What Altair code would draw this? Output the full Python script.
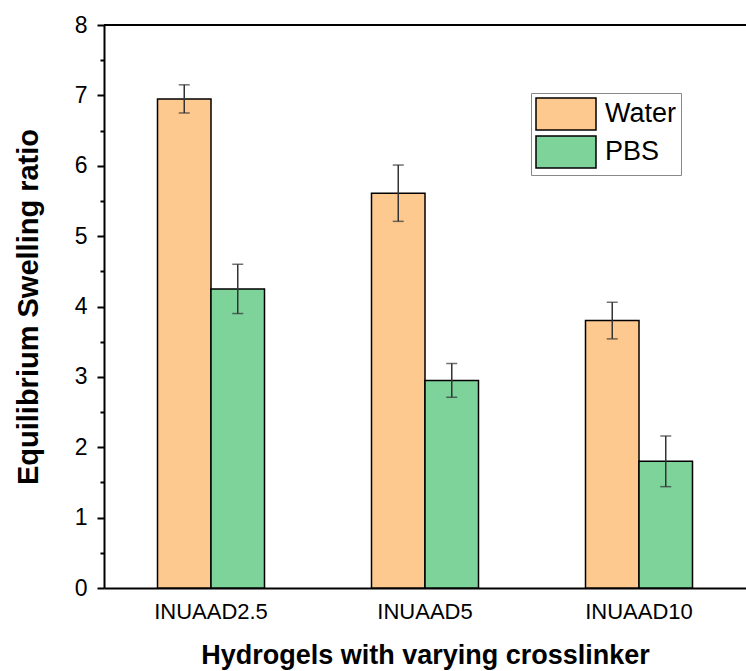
import altair as alt
import pandas as pd

categories = ["INUAAD2.5", "INUAAD5", "INUAAD10"]
series = ["Water", "PBS"]
water_values = [6.95, 5.61, 3.80]
water_errors = [0.20, 0.40, 0.26]
pbs_values = [4.25, 2.95, 1.80]
pbs_errors = [0.35, 0.24, 0.36]
colors = ["#FEC98E", "#7DD39A"]
y_major_ticks = [0, 1, 2, 3, 4, 5, 6, 7, 8]
y_minor_ticks = [0.5, 1.5, 2.5, 3.5, 4.5, 5.5, 6.5, 7.5]

rows = []
for i, c in enumerate(categories):
    rows.append({"cat": c, "medium": "Water", "value": water_values[i], "err": water_errors[i]})
    rows.append({"cat": c, "medium": "PBS", "value": pbs_values[i], "err": pbs_errors[i]})
df = pd.DataFrame(rows)
df["lo"] = df["value"] - df["err"]
df["hi"] = df["value"] + df["err"]

FONT = "Arial, Liberation Sans, Helvetica, sans-serif"

x_axis = alt.Axis(
    title="Hydrogels with varying crosslinker",
    labelAngle=0,
    ticks=False,
    labelFontSize=22,
    labelPadding=13,
    labelColor="black",
    titleFontSize=27,
    titleFontWeight="bold",
    titlePadding=20,
    titleColor="black",
    domainColor="black",
    domainWidth=2,
    grid=False,
    labelFont=FONT,
    titleFont=FONT,
)
x_scale = alt.Scale(paddingInner=0.5, paddingOuter=0.25)


def x_enc():
    return alt.X("cat:N", sort=categories, scale=x_scale, axis=x_axis)


xoff = alt.XOffset("medium:N", sort=series, scale=alt.Scale(domain=series, paddingInner=0, paddingOuter=0))

y_scale = alt.Scale(domain=[0, 8], nice=False)

bars = alt.Chart(df).mark_bar(stroke="black", strokeWidth=1.5, opacity=1).encode(
    x=x_enc(),
    xOffset=xoff,
    y=alt.Y(
        "value:Q",
        scale=y_scale,
        axis=alt.Axis(
            title="Equilibrium Swelling ratio",
            orient="left",
            values=y_major_ticks,
            format="d",
            tickSize=7,
            tickWidth=2,
            tickColor="black",
            domainColor="black",
            domainWidth=2,
            labelFontSize=23,
            labelPadding=10,
            labelColor="black",
            titleFontSize=29,
            titleFontWeight="bold",
            titlePadding=31,
            titleColor="black",
            grid=False,
            labelFont=FONT,
            titleFont=FONT,
        ),
    ),
    color=alt.Color(
        "medium:N",
        sort=series,
        scale=alt.Scale(domain=series, range=colors),
        legend=alt.Legend(
            title=None,
            orient="none",
            legendX=427,
            legendY=68,
            symbolType="M-1,-1H2.75V1H-1Z",
            symbolSize=1024,
            symbolStrokeColor="black",
            symbolStrokeWidth=1.5,
            symbolOpacity=1,
            labelFontSize=27,
            labelFont=FONT,
            labelColor="black",
            labelOffset=36,
            rowPadding=0,
            padding=4,
            strokeColor="#888888",
            fillColor="white",
        ),
    ),
)

err_rules = alt.Chart(df).mark_rule(color="#333333", strokeWidth=1.5).encode(
    x=x_enc(),
    xOffset=xoff,
    y=alt.Y("lo:Q", scale=y_scale, axis=None),
    y2="hi:Q",
)
caps_lo = alt.Chart(df).mark_tick(color="#333333", thickness=1.5, size=11).encode(
    x=x_enc(),
    xOffset=xoff,
    y=alt.Y("lo:Q", scale=y_scale, axis=None),
)
caps_hi = alt.Chart(df).mark_tick(color="#333333", thickness=1.5, size=11).encode(
    x=x_enc(),
    xOffset=xoff,
    y=alt.Y("hi:Q", scale=y_scale, axis=None),
)
top_line = alt.Chart(pd.DataFrame({"top": [8]})).mark_rule(color="black", strokeWidth=2).encode(
    y=alt.Y(
        "top:Q",
        scale=y_scale,
        axis=alt.Axis(
            orient="left",
            title=None,
            values=y_minor_ticks,
            labels=False,
            domain=False,
            grid=False,
            tickSize=4,
            tickWidth=2,
            tickColor="black",
        ),
    )
)

chart = alt.layer(bars, err_rules, caps_lo, caps_hi, top_line).resolve_axis(y="independent").properties(
    width=642,
    height=563,
    autosize=alt.AutoSizeParams(type="none"),
    padding={"left": 104, "top": 25, "right": 0, "bottom": 83},
    background="white",
).configure_view(stroke=None)

chart.save("out.html", embed_options={"renderer": "svg", "actions": False})
